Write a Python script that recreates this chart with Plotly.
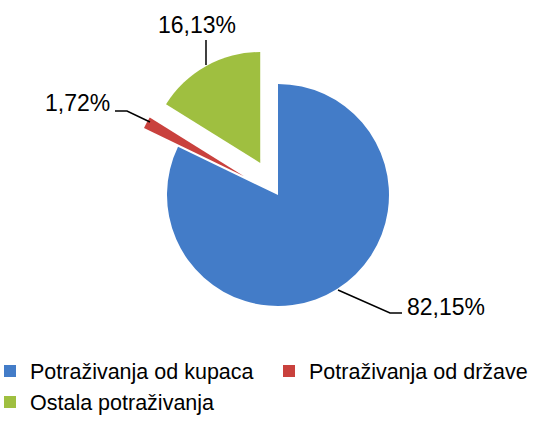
import plotly.graph_objects as go

# ---- data ----
categories = ["Potraživanja od kupaca", "Potraživanja od države", "Ostala potraživanja"]
values = [82.15, 1.72, 16.13]
value_labels = ["82,15%", "1,72%", "16,13%"]
colors = ["#437cc8", "#c9413d", "#9fbf40"]
pulls = [0.0, 0.35, 0.33]

W, H = 555, 421
MB = 76                     # bottom margin holding the legend
PH = H - MB                 # plot-area height

def px(x):
    return x / W

def py(y):
    return (PH - y) / PH

# pie geometry (pixels)
cx, cy, r = 278, 195, 111
half = r * (1 + max(pulls))

fig = go.Figure()
fig.add_trace(go.Pie(
    labels=categories,
    values=values,
    sort=False,
    direction="clockwise",
    rotation=0,
    pull=pulls,
    marker=dict(colors=colors, line=dict(width=0)),
    textinfo="none",
    hoverinfo="label+percent",
    domain=dict(x=[px(cx - half), px(cx + half)], y=[py(cy + half), py(cy - half)]),
))

# outside labels with leader lines
label_pos = [(446, 307), (77.5, 103), (196.5, 25)]
leaders = [
    [(338, 290), (390, 313), (402, 313)],
    [(150, 122), (127, 111), (115, 111)],
    [(206, 65), (206, 40)],
]
annotations = []
shapes = []
for txt, (lx, ly), pts in zip(value_labels, label_pos, leaders):
    annotations.append(dict(
        text=txt, x=px(lx), y=py(ly), xref="paper", yref="paper",
        showarrow=False, xanchor="center", yanchor="middle",
        font=dict(family="Liberation Sans", size=23, color="#000000"),
    ))
    path = "M " + " L ".join(f"{px(x):.5f},{py(y):.5f}" for x, y in pts)
    shapes.append(dict(type="path", path=path, xref="paper", yref="paper",
                       line=dict(color="#000000", width=1.5)))

fig.update_layout(
    width=W, height=H,
    margin=dict(l=0, r=0, t=0, b=MB, autoexpand=False),
    paper_bgcolor="white",
    plot_bgcolor="white",
    showlegend=True,
    legend=dict(
        orientation="h",
        x=-10 / W, xanchor="left",
        y=-0.016, yanchor="top",
        entrywidth=234,
        font=dict(family="Liberation Sans", size=21.5, color="#000000"),
        bgcolor="rgba(0,0,0,0)",
    ),
    annotations=annotations,
    shapes=shapes,
)

fig.write_html(
    "out.html",
    config={"displayModeBar": False},
    post_script="document.body.style.margin='0';document.body.style.padding='0';",
)
